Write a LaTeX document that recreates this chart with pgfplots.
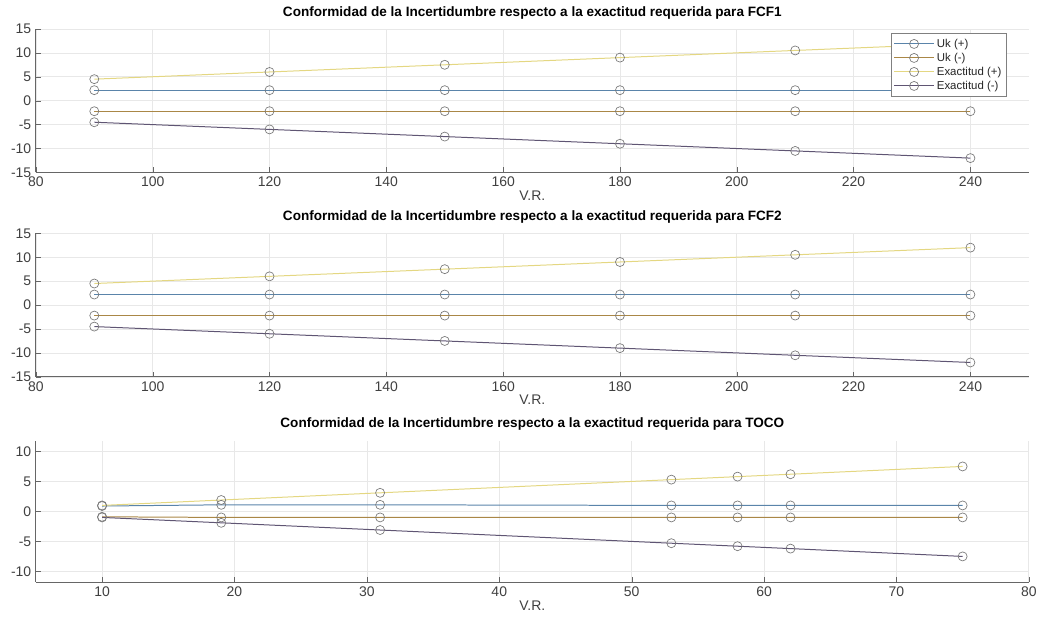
\documentclass[border=0pt]{standalone}
\usepackage{pgfplots}
\pgfplotsset{compat=1.18}
\usepackage{fontspec}
\setmainfont{Liberation Sans}
\definecolor{cUkp}{RGB}{90,132,170}
\definecolor{cUkm}{RGB}{170,135,70}
\definecolor{cExp}{RGB}{228,215,130}
\definecolor{cExm}{RGB}{95,85,115}
\definecolor{mk}{RGB}{120,120,120}
\definecolor{gridc}{RGB}{232,232,232}
\pgfplotsset{
  mystyle/.style={
    scale only axis,
    width=747pt, height=108pt,
    axis x line*=bottom, axis y line*=left,
    axis line style={draw=black!60, line width=0.6pt},
    tick align=inside,
    major tick length=4pt,
    tick style={black!60},
    grid=major,
    major grid style={gridc, line width=0.5pt},
    tick label style={font=\fontsize{10.5}{12}\selectfont, text=black!75},
    /pgf/number format/assume math mode=true,
    title style={font=\bfseries\fontsize{10.2}{12}\selectfont, yshift=-2pt},
    xlabel style={font=\fontsize{10.5}{12}\selectfont, text=black!75, yshift=4pt},
    xlabel={V.R.},
    every axis plot/.append style={line width=0.75pt, mark=o, mark size=3.4pt, mark options={draw=mk, line width=0.5pt}},
  }
}
\begin{document}
\begin{tikzpicture}
\path (0,0) rectangle (780.75pt,468.75pt);
% Panel 1
\begin{axis}[mystyle, at={(27pt,339pt)}, anchor=south west,
  xmin=80, xmax=250, ymin=-15, ymax=15,
  xtick={80,100,...,240}, ytick={-15,-10,...,15},
  title={Conformidad de la Incertidumbre respecto a la exactitud requerida para FCF1},
  legend style={at={(0.978,0.97)}, anchor=north east, draw=black!50, line width=0.4pt,
    font=\fontsize{8.6}{10}\selectfont, text=black!85, row sep=-1.2pt, inner sep=2pt},
  legend cell align=left,
  legend image code/.code={\draw[mark repeat=2, mark phase=2] plot coordinates {(0cm,0cm) (0.52cm,0cm) (1.04cm,0cm)};}]
\addplot[cUkp] coordinates {(90,2.2) (120,2.2) (150,2.2) (180,2.2) (210,2.2) (240,2.2)};
\addlegendentry{Uk (+)}
\addplot[cUkm] coordinates {(90,-2.2) (120,-2.2) (150,-2.2) (180,-2.2) (210,-2.2) (240,-2.2)};
\addlegendentry{Uk (-)}
\addplot[cExp] coordinates {(90,4.5) (120,6) (150,7.5) (180,9) (210,10.5) (240,12)};
\addlegendentry{Exactitud (+)}
\addplot[cExm] coordinates {(90,-4.5) (120,-6) (150,-7.5) (180,-9) (210,-10.5) (240,-12)};
\addlegendentry{Exactitud (-)}
\end{axis}
% Panel 2
\begin{axis}[mystyle, at={(27pt,185.25pt)}, anchor=south west,
  xmin=80, xmax=250, ymin=-15, ymax=15,
  xtick={80,100,...,240}, ytick={-15,-10,...,15},
  title={Conformidad de la Incertidumbre respecto a la exactitud requerida para FCF2}]
\addplot[cUkp] coordinates {(90,2.2) (120,2.2) (150,2.2) (180,2.2) (210,2.2) (240,2.2)};
\addplot[cUkm] coordinates {(90,-2.2) (120,-2.2) (150,-2.2) (180,-2.2) (210,-2.2) (240,-2.2)};
\addplot[cExp] coordinates {(90,4.5) (120,6) (150,7.5) (180,9) (210,10.5) (240,12)};
\addplot[cExm] coordinates {(90,-4.5) (120,-6) (150,-7.5) (180,-9) (210,-10.5) (240,-12)};
\end{axis}
% Panel 3
\begin{axis}[mystyle, at={(27pt,30.75pt)}, anchor=south west, height=106.5pt,
  xmin=5, xmax=80, ymin=-11.8, ymax=11.8,
  xtick={10,20,...,80}, ytick={-10,-5,...,10},
  title={Conformidad de la Incertidumbre respecto a la exactitud requerida para TOCO}]
\addplot[cUkp] coordinates {(10,0.9) (19,1.1) (31,1.1) (53,1.0) (58,1.0) (62,1.0) (75,1.0)};
\addplot[cUkm] coordinates {(10,-0.9) (19,-1.0) (31,-1.0) (53,-1.0) (58,-1.0) (62,-1.0) (75,-1.0)};
\addplot[cExp] coordinates {(10,1.0) (19,1.9) (31,3.1) (53,5.3) (58,5.8) (62,6.2) (75,7.5)};
\addplot[cExm] coordinates {(10,-1.0) (19,-1.9) (31,-3.1) (53,-5.3) (58,-5.8) (62,-6.2) (75,-7.5)};
\end{axis}
\end{tikzpicture}
\end{document}
